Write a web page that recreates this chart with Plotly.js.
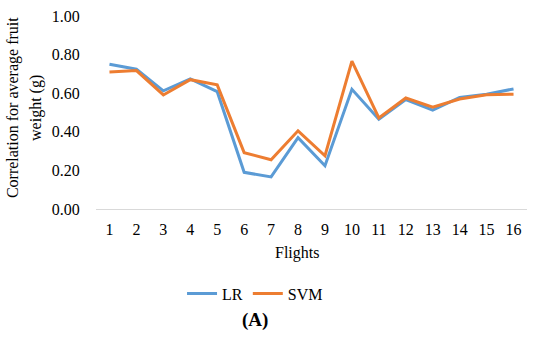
<!DOCTYPE html>
<html>
<head>
<meta charset="utf-8">
<script src="https://cdn.plot.ly/plotly-3.0.1.min.js"></script>
<style>html,body{margin:0;padding:0;background:#fff;}#chart{width:550px;height:343px;}</style>
</head>
<body>
<div id="chart"></div>
<script>
var flights = ['1','2','3','4','5','6','7','8','9','10','11','12','13','14','15','16'];
var lrValues  = [0.75, 0.724, 0.612, 0.674, 0.608, 0.19, 0.166, 0.370, 0.224, 0.620, 0.465, 0.567, 0.512, 0.578, 0.595, 0.622];
var svmValues = [0.710, 0.717, 0.591, 0.670, 0.643, 0.292, 0.255, 0.405, 0.276, 0.766, 0.472, 0.575, 0.528, 0.570, 0.592, 0.595];
var yTicks = [0, 0.2, 0.4, 0.6, 0.8, 1.0];
var yTickLabels = ['0.00','0.20','0.40','0.60','0.80','1.00'];

var fam = 'Liberation Serif';
var font = {family: fam, size: 16, color: '#000'};

var traces = [
  {x: flights, y: lrValues, name: 'LR', type: 'scatter', mode: 'lines',
   line: {color: '#5B9BD5', width: 3}},
  {x: flights, y: svmValues, name: 'SVM', type: 'scatter', mode: 'lines',
   line: {color: '#ED7D31', width: 3}}
];

var layout = {
  width: 550, height: 343,
  margin: {l: 96, r: 23, t: 16, b: 134},
  paper_bgcolor: '#fff', plot_bgcolor: '#fff',
  font: font,
  showlegend: true,
  legend: {orientation: 'h', x: 0.369, xanchor: 'center', y: -0.438, yanchor: 'middle',
           font: font, itemwidth: 30, tracegroupgap: 0},
  xaxis: {type: 'category', range: [-0.5, 15.5], showgrid: false, zeroline: false,
          showline: true, linecolor: '#d9d9d9', linewidth: 1,
          ticks: 'outside', ticklen: 6, tickcolor: 'rgba(0,0,0,0)', tickfont: font},
  yaxis: {range: [0, 1.0], tickvals: yTicks, ticktext: yTickLabels, showgrid: false,
          zeroline: false, showline: false, ticks: 'outside', ticklen: 12,
          tickcolor: 'rgba(0,0,0,0)', tickfont: font},
  annotations: [
    {text: 'Correlation for average fruit', textangle: -90, xref: 'paper', yref: 'paper',
     x: -0.192, y: 0.524, xanchor: 'center', yanchor: 'middle', showarrow: false, font: font},
    {text: 'weight (g)', textangle: -90, xref: 'paper', yref: 'paper',
     x: -0.139, y: 0.524, xanchor: 'center', yanchor: 'middle', showarrow: false, font: font},
    {text: 'Flights', xref: 'paper', yref: 'paper', x: 0.466, y: -0.226,
     xanchor: 'center', yanchor: 'middle', showarrow: false, font: font},
    {text: '<b>(A)</b>', xref: 'paper', yref: 'paper', x: 0.369, y: -0.573,
     xanchor: 'center', yanchor: 'middle', showarrow: false,
     font: {family: fam, size: 19, color: '#000'}}
  ]
};

Plotly.newPlot('chart', traces, layout, {displayModeBar: false, staticPlot: true});
</script>
</body>
</html>
